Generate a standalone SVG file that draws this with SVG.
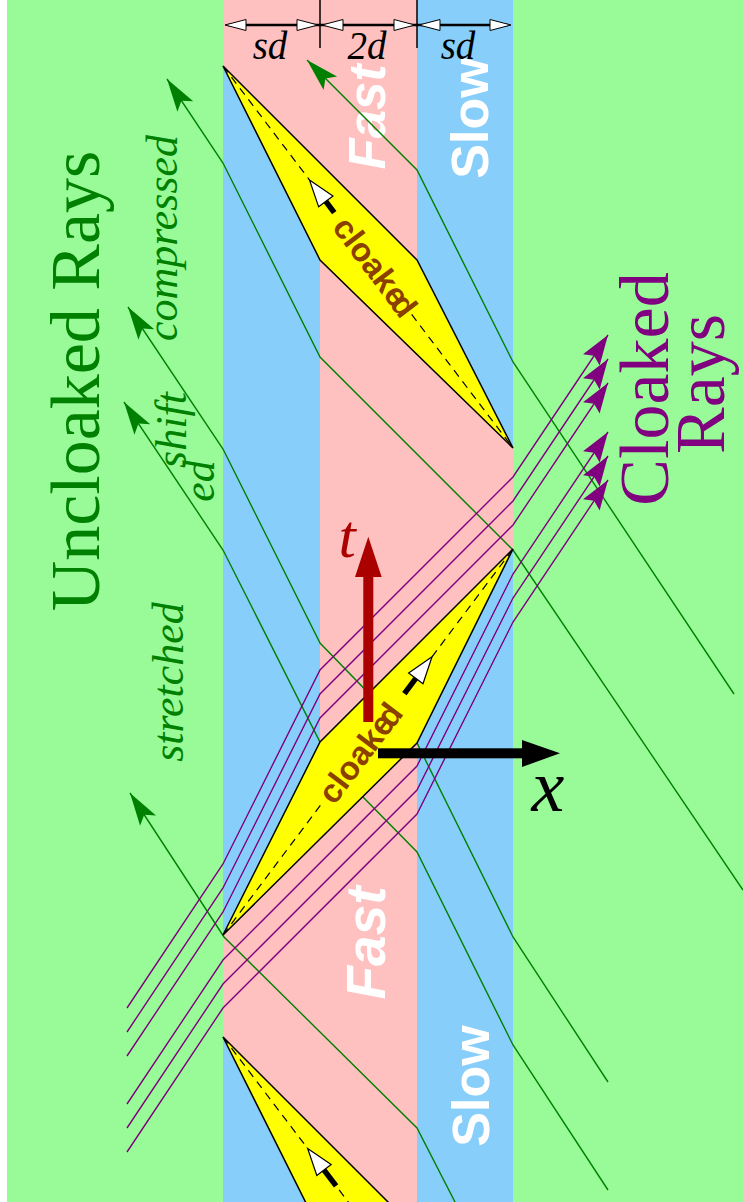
<svg xmlns="http://www.w3.org/2000/svg" width="743" height="1202" viewBox="0 0 743 1202">
<style>
.rg{fill:none;stroke:#008000;stroke-width:1.4;marker-end:url(#ga)}
.rp{fill:none;stroke:#800080;stroke-width:1.4;marker-end:url(#pa)}
.dia{fill:#ffff00;stroke:#000;stroke-width:1.5;stroke-linejoin:miter}
.dash{fill:none;stroke:#000;stroke-width:1.2;stroke-dasharray:8 6}
.shaft{stroke:#000;stroke-width:5.5}
.ah{fill:#fff;stroke:#000;stroke-width:1.2;stroke-linejoin:miter}
.cl{font-family:"Liberation Sans",Arial,sans-serif;font-weight:bold;font-size:33px;fill:#8B4000}
.band{font-family:"Liberation Sans",Arial,sans-serif;font-weight:bold;fill:#fff}
.serif{font-family:"Liberation Serif","Times New Roman",serif}
.it{font-style:italic}
.dimh{fill:#fff;stroke:#000;stroke-width:1}
</style>
<defs>
<marker id="ga" markerUnits="userSpaceOnUse" markerWidth="40" markerHeight="30" refX="0" refY="0" orient="auto" style="overflow:visible">
<path d="M0,0 L-33,-9.5 L-26,0 L-33,9.5 Z" fill="#008000"/>
</marker>
<marker id="pa" markerUnits="userSpaceOnUse" markerWidth="40" markerHeight="30" refX="0" refY="0" orient="auto" style="overflow:visible">
<path d="M0,0 L-30,-10 L-25,0 L-30,10 Z" fill="#800080"/>
</marker>
</defs>

<g id="background">
<rect x="0" y="0" width="743" height="1202" fill="#ffffff"/>
<rect x="7" y="0" width="736" height="1202" fill="#98FB98"/>
<rect x="223" y="0" width="97" height="1202" fill="#87CEFA"/>
<rect x="320" y="0" width="97" height="1202" fill="#FFC0C0"/>
<rect x="417" y="0" width="96" height="1202" fill="#87CEFA"/>
<polygon points="223,0 320,0 320,163 223,66" fill="#FFC0C0"/>
<polygon points="417,355 513,448 513,549 417,646" fill="#FFC0C0"/>
<polygon points="320,839 223,935 223,1037 320,1134" fill="#FFC0C0"/>
</g>

<g id="medium-labels">
<text class="band it" font-size="51" transform="translate(385,117) rotate(-90)" text-anchor="middle">Fast</text>
<text class="band" font-size="52" transform="translate(488,118) rotate(-90)" text-anchor="middle">Slow</text>
<text class="band it" font-size="55" transform="translate(385,943) rotate(-90)" text-anchor="middle">Fast</text>
<text class="band" font-size="52" transform="translate(489,1086) rotate(-90)" text-anchor="middle">Slow</text>
</g>

<g id="connectors">
<polyline class="rg" points="734,694 513,362 417,170 307,60"/>
<polyline class="rg" points="743,890 513,550 320,357 223,163 167,79"/>
<polyline class="rg" points="608,1082 513,937 417,743 320,643 223,449 128,307"/>
<polyline class="rg" points="608,1190 513,1045 417,852 363,797 320,742 223,550 124,402"/>
<polyline class="rg" points="455,1202 417,1128 224,937 130,793"/>
<polyline class="rp" points="127,1008 223,864 320,670 513,477 608,335"/>
<polyline class="rp" points="127,1032 223,888 320,694 513,501 608,359"/>
<polyline class="rp" points="127,1056 223,912 320,718 513,525 608,383"/>
<polyline class="rp" points="127,1104 223,960 417,766 513,574 608,432"/>
<polyline class="rp" points="127,1128 223,984 417,790 513,598 608,456"/>
<polyline class="rp" points="127,1152 223,1008 417,814 513,622 608,480"/>
</g>

<g id="cloak-upper">
<polygon class="dia" points="223,66 417,260 513,448 320,260"/>
<g transform="translate(223,66) rotate(52.79)">
<line class="dash" x1="0" y1="0" x2="143" y2="0"/>
<line class="dash" x1="312" y1="0" x2="479.6" y2="0"/>
<line class="shaft" x1="166" y1="0" x2="184" y2="0"/>
<polygon class="ah" points="143,0 170,-9 170,9"/>
<text class="cl" x="252" y="0" text-anchor="middle" dominant-baseline="central">cloake<tspan dx="-7">d</tspan></text>
</g>
</g>

<g id="cloak-middle">
<polygon class="dia" points="513,549 417,743 223,935 320,742"/>
<g transform="translate(223,935) rotate(-53.08)">
<line class="dash" x1="0" y1="0" x2="162" y2="0"/>
<line class="dash" x1="348" y1="0" x2="482.8" y2="0"/>
<line class="shaft" x1="302" y1="0" x2="325" y2="0"/>
<polygon class="ah" points="348,0 321,-9 321,9"/>
<text class="cl" x="228" y="0" text-anchor="middle" dominant-baseline="central">cloake<tspan dx="-7">d</tspan></text>
</g>
</g>

<g id="cloak-lower">
<polygon class="dia" points="223,1037 417,1231 513,1419 320,1231"/>
<g transform="translate(223,1037) rotate(52.79)">
<line class="dash" x1="0" y1="0" x2="140" y2="0"/>
<line class="dash" x1="192" y1="0" x2="479.6" y2="0"/>
<line class="shaft" x1="163" y1="0" x2="187" y2="0"/>
<polygon class="ah" points="140,0 167,-9 167,9"/>
</g>
</g>

<g id="axis-t">
<rect x="363.3" y="576" width="10" height="146" fill="#AA0000"/>
<polygon points="355,577 381.7,577 368.3,536.7" fill="#AA0000"/>
<text class="serif it" x="347" y="557" font-size="62" fill="#AA0000" text-anchor="middle">t</text>
</g>

<g id="axis-x">
<rect x="378" y="748.3" width="145" height="10" fill="#000"/>
<polygon points="522,740 522,767 560,753.3" fill="#000"/>
<text class="serif it" x="548" y="811" font-size="74" fill="#000" text-anchor="middle">x</text>
</g>

<g id="ray-labels">
<text class="serif" font-size="70" fill="#008000" transform="translate(99,381) rotate(-90)" text-anchor="middle">Uncloaked Rays</text>
<text class="serif it" font-size="44" fill="#008000" transform="translate(177,238) rotate(-90)" text-anchor="middle">compressed</text>
<text class="serif it" font-size="44" fill="#008000" transform="translate(186,430) rotate(-90)" text-anchor="middle">shift</text>
<text class="serif it" font-size="44" fill="#008000" transform="translate(214,481) rotate(-90)" text-anchor="middle">ed</text>
<text class="serif it" font-size="44" fill="#008000" transform="translate(183,682) rotate(-90)" text-anchor="middle">stretched</text>
<text class="serif" font-size="70" fill="#800080" transform="translate(668,389) rotate(-90)" text-anchor="middle">Cloaked</text>
<text class="serif" font-size="70" fill="#800080" transform="translate(724,384) rotate(-90)" text-anchor="middle">Rays</text>
</g>

<g id="dimensions">
<line x1="320" y1="0" x2="320" y2="48" stroke="#000" stroke-width="1.5"/>
<line x1="417" y1="0" x2="417" y2="48" stroke="#000" stroke-width="1.5"/>
<line x1="228" y1="25" x2="508" y2="25" stroke="#000" stroke-width="2.7"/>
<polygon class="dimh" points="225,25 246,19.5 246,30.5"/>
<polygon class="dimh" points="318,25 297,19.5 297,30.5"/>
<polygon class="dimh" points="322,25 343,19.5 343,30.5"/>
<polygon class="dimh" points="415,25 394,19.5 394,30.5"/>
<polygon class="dimh" points="419,25 440,19.5 440,30.5"/>
<polygon class="dimh" points="511,25 490,19.5 490,30.5"/>
<text class="serif it" x="270" y="59" font-size="39" text-anchor="middle">sd</text>
<text class="serif it" x="367" y="59" font-size="39" text-anchor="middle">2d</text>
<text class="serif it" x="458" y="59" font-size="39" text-anchor="middle">sd</text>
</g>
</svg>
